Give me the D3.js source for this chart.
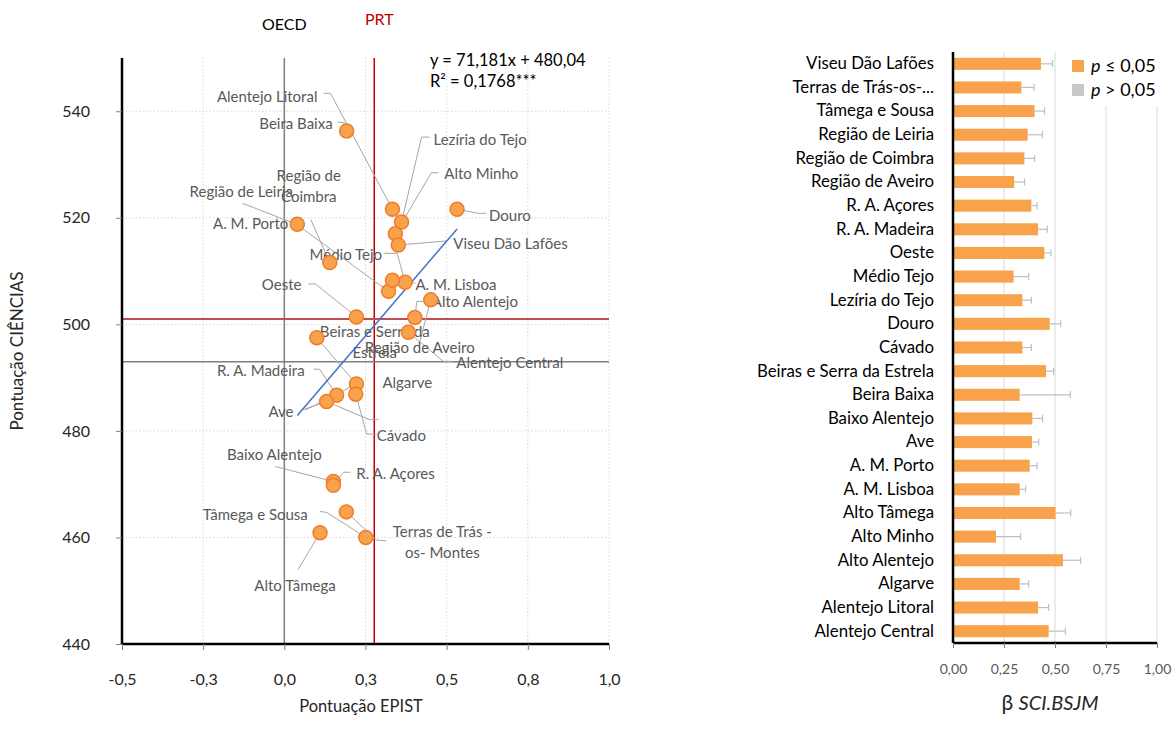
<!DOCTYPE html>
<html>
<head>
<meta charset="utf-8">
<script src="https://cdn.jsdelivr.net/npm/d3@7"></script>
<style>
  body { margin: 0; background: #fff; }
  text { font-family: Lato, "Open Sans", sans-serif; }
</style>
</head>
<body>
<svg id="chart"></svg>
<script>
// ---- dados: dispersão EPIST x CIÊNCIAS ----
const scatterRegions = [
  "Beira Baixa", "Alentejo Litoral", "Lezíria do Tejo", "Alto Minho", "Viseu Dão Lafões",
  "Douro", "A. M. Porto", "Região de Coimbra", "Região de Leiria", "Médio Tejo",
  "A. M. Lisboa", "Região de Aveiro", "Alto Alentejo", "Oeste", "Alentejo Central",
  "Beiras e Serra da Estrela", "Algarve", "Cávado", "R. A. Madeira", "Ave",
  "Baixo Alentejo", "R. A. Açores", "Terras de Trás-os-Montes", "Tâmega e Sousa", "Alto Tâmega"
];
const epist = [
  0.192, 0.333, 0.361, 0.342, 0.351,
  0.532, 0.040, 0.140, 0.321, 0.372,
  0.333, 0.451, 0.402, 0.222, 0.382,
  0.100, 0.222, 0.220, 0.161, 0.130,
  0.151, 0.151, 0.191, 0.251, 0.110
];
const ciencias = [
  536.3, 521.6, 519.2, 517.0, 514.9,
  521.6, 518.8, 511.6, 506.2, 507.9,
  508.3, 504.6, 501.3, 501.4, 498.5,
  497.5, 488.8, 486.9, 486.7, 485.5,
  470.5, 469.8, 464.8, 460.0, 460.9
];
const oecdEpist = 0, prtEpist = 0.277;
const oecdCiencias = 493, prtCiencias = 501;
const trendSlope = 71.181, trendIntercept = 480.04;
const xTicks = [-0.5, -0.25, 0, 0.25, 0.5, 0.75, 1];
const xTickLabels = ["-0,5", "-0,3", "0,0", "0,3", "0,5", "0,8", "1,0"];
const yTicks = [440, 460, 480, 500, 520, 540];

// ---- dados: barras β SCI.BSJM ----
const barRegions = [
  "Viseu Dão Lafões", "Terras de Trás-os-...", "Tâmega e Sousa", "Região de Leiria",
  "Região de Coimbra", "Região de Aveiro", "R. A. Açores", "R. A. Madeira", "Oeste",
  "Médio Tejo", "Lezíria do Tejo", "Douro", "Cávado", "Beiras e Serra da Estrela",
  "Beira Baixa", "Baixo Alentejo", "Ave", "A. M. Porto", "A. M. Lisboa", "Alto Tâmega",
  "Alto Minho", "Alto Alentejo", "Algarve", "Alentejo Litoral", "Alentejo Central"
];
const beta = [
  0.431, 0.335, 0.400, 0.366, 0.350, 0.300, 0.384, 0.417, 0.448, 0.297, 0.340, 0.474, 0.340,
  0.456, 0.327, 0.389, 0.387, 0.376, 0.327, 0.503, 0.211, 0.539, 0.327, 0.417, 0.469
];
const betaErr = [
  0.057, 0.062, 0.049, 0.072, 0.050, 0.051, 0.028, 0.045, 0.032, 0.074, 0.044, 0.054, 0.044,
  0.037, 0.248, 0.050, 0.033, 0.036, 0.029, 0.074, 0.121, 0.087, 0.044, 0.052, 0.082
];
const significant = barRegions.map(() => true);
const betaTicks = [0, 0.25, 0.5, 0.75, 1];
const betaTickLabels = ["0,00", "0,25", "0,50", "0,75", "1,00"];

const width = 1173, height = 743;
const svg = d3.select("#chart").attr("width", width).attr("height", height);

const orange = "#F8A34B", orangeStroke = "#EE7D2C", labelGray = "#595959";

// ================= dispersão =================
const x = d3.scaleLinear().domain([-0.5, 1]).range([122, 609]);
const y = d3.scaleLinear().domain([440, 550]).range([644, 58]);

// grelha pontilhada
svg.append("g").selectAll("line").data(xTicks.filter(d => d > -0.5)).join("line")
  .attr("x1", d => x(d)).attr("x2", d => x(d))
  .attr("y1", y(550)).attr("y2", y(440))
  .attr("stroke", "#d9d9d9").attr("stroke-dasharray", "1.5,2");
svg.append("g").selectAll("line").data(yTicks.filter(d => d > 440)).join("line")
  .attr("x1", x(-0.5)).attr("x2", x(1))
  .attr("y1", d => y(d)).attr("y2", d => y(d))
  .attr("stroke", "#d9d9d9").attr("stroke-dasharray", "1.5,2");

// linhas de referência OECD / PRT
svg.append("line").attr("x1", x(oecdEpist)).attr("x2", x(oecdEpist))
  .attr("y1", y(550)).attr("y2", y(440)).attr("stroke", "#7f7f7f").attr("stroke-width", 1.5);
svg.append("line").attr("x1", x(prtEpist)).attr("x2", x(prtEpist))
  .attr("y1", y(550)).attr("y2", y(440)).attr("stroke", "#C00000").attr("stroke-width", 1.5);
svg.append("line").attr("x1", x(-0.5)).attr("x2", x(1))
  .attr("y1", y(oecdCiencias)).attr("y2", y(oecdCiencias)).attr("stroke", "#7f7f7f").attr("stroke-width", 1.5);
svg.append("line").attr("x1", x(-0.5)).attr("x2", x(1))
  .attr("y1", y(prtCiencias)).attr("y2", y(prtCiencias)).attr("stroke", "#C0504D").attr("stroke-width", 2);

svg.append("text").attr("x", x(oecdEpist)).attr("y", 30).attr("text-anchor", "middle")
  .attr("font-size", 16).attr("fill", "#000").text("OECD");
svg.append("text").attr("x", x(prtEpist) + 5).attr("y", 25).attr("text-anchor", "middle")
  .attr("font-size", 16).attr("fill", "#C00000").text("PRT");

// eixos
const xAxis = svg.append("g").attr("transform", `translate(0,${y(440)})`)
  .call(d3.axisBottom(x).tickValues(xTicks).tickFormat((d, i) => xTickLabels[i]).tickSize(6).tickPadding(24));
const yAxis = svg.append("g").attr("transform", `translate(${x(-0.5)},0)`)
  .call(d3.axisLeft(y).tickValues(yTicks).tickSize(6).tickPadding(26));
[xAxis, yAxis].forEach(g => {
  g.select(".domain").attr("stroke", "#000").attr("stroke-width", 2.5);
  g.selectAll(".tick line").attr("stroke", "#7f7f7f");
  g.selectAll(".tick text").attr("font-size", 16).attr("fill", "#262626")
    .style("font-family", "Lato, sans-serif");
});
yAxis.select(".domain").attr("d", `M-0,${y(550)}V${y(440)}`);
xAxis.select(".domain").attr("d", `M${x(-0.5)},0H${x(1)}`);

svg.append("text").attr("transform", `translate(23,${(y(440) + y(550)) / 2}) rotate(-90)`)
  .attr("text-anchor", "middle").attr("font-size", 17).attr("fill", "#262626").text("Pontuação CIÊNCIAS");
svg.append("text").attr("x", 361).attr("y", 712).attr("text-anchor", "middle")
  .attr("font-size", 16.5).attr("fill", "#262626").text("Pontuação EPIST");

// rótulos (deslocamento em px a partir do ponto) e linhas de chamada
const labelLayout = {
  "Beira Baixa": { dx: -14, dy: -7, anchor: "end", leader: [[-9, -9], [-2, -8], [0, 0]] },
  "Alentejo Litoral": { dx: -75, dy: -113, anchor: "end", leader: [[-69, -116], [-62, -116], [0, 0]] },
  "Lezíria do Tejo": { dx: 32, dy: -82, anchor: "start", leader: [[28, -85], [20, -85], [0, 0]] },
  "Alto Minho": { dx: 49, dy: -60, anchor: "start", leader: [[43, -61], [36, -61], [0, 0]] },
  "Viseu Dão Lafões": { dx: 55, dy: -1, anchor: "start", leader: [[48, -4], [0, 0]] },
  "Douro": { dx: 32, dy: 6, anchor: "start", leader: [[29, 4], [21, 4], [0, 0]] },
  "A. M. Porto": { dx: -9, dy: 0, anchor: "end", leader: null },
  "Região de Coimbra": { dx: -21, dy: -87, anchor: "middle", lines: ["Região de", "Coimbra"], leader: [[-19, -43], [0, 0]] },
  "Região de Leiria": { dx: -199, dy: -100, anchor: "start", leader: [[-146, -88], [-92, -67], [0, 0]] },
  "Médio Tejo": { dx: -23, dy: -28, anchor: "end", leader: [[-21, -29], [-8, -29], [0, 0]] },
  "A. M. Lisboa": { dx: 23, dy: 5, anchor: "start", leader: [[23, 3], [0, 0]] },
  "Região de Aveiro": { dx: -66, dy: 48, anchor: "start", leader: [[-11, 42], [0, 0]] },
  "Alto Alentejo": { dx: 17, dy: -16, anchor: "start", leader: [[12, -16], [2, -16], [0, 0]] },
  "Oeste": { dx: -55, dy: -32, anchor: "end", leader: [[-48, -33], [-41, -33], [0, 0]] },
  "Alentejo Central": { dx: 48, dy: 30, anchor: "start", leader: [[43, 29], [35, 29], [0, 0]] },
  "Beiras e Serra da Estrela": { dx: 58, dy: -6, anchor: "middle", lines: ["Beiras e Serra da", "Estrela"], leader: [[0, 0], [40, 47]] },
  "Algarve": { dx: 26, dy: -1, anchor: "start", leader: [[-51, 26], [0, 0]] },
  "Cávado": { dx: 21, dy: 42, anchor: "start", leader: [[21, 40], [11, 40], [0, 0]] },
  "R. A. Madeira": { dx: -32, dy: -24, anchor: "end", leader: [[-23, -26], [-17, -26], [0, 0]] },
  "Ave": { dx: -33, dy: 10, anchor: "end", leader: [[-23, 8], [0, 0], [43, 18], [52, 18]] },
  "Baixo Alentejo": { dx: -59, dy: -27, anchor: "middle", leader: [[-58, -15], [0, 0]] },
  "R. A. Açores": { dx: 23, dy: -11, anchor: "start", leader: [[17, -13], [10, -13], [0, 0]] },
  "Terras de Trás-os-Montes": { dx: 96, dy: 20, anchor: "middle", lines: ["Terras de Trás -", "os- Montes"], leader: [[40, 29], [30, 28], [0, 0]] },
  "Tâmega e Sousa": { dx: -58, dy: -23, anchor: "end", leader: [[-46, -26], [-39, -25], [0, 0]] },
  "Alto Tâmega": { dx: -25, dy: 53, anchor: "middle", leader: [[-22, 37], [0, 0]] }
};

const pts = scatterRegions.map((name, i) => ({ name, px: x(epist[i]), py: y(ciencias[i]), lay: labelLayout[name] }));

// linhas de chamada
svg.append("g").selectAll("path").data(pts.filter(p => p.lay.leader)).join("path")
  .attr("d", p => d3.line()(p.lay.leader.map(([a, b]) => [p.px + a, p.py + b])))
  .attr("fill", "none").attr("stroke", "#a6a6a6").attr("stroke-width", 1);

// rótulos
const lab = svg.append("g").selectAll("text").data(pts).join("text")
  .attr("x", p => p.px + p.lay.dx).attr("y", p => p.py + p.lay.dy)
  .attr("dy", "0.35em").attr("text-anchor", p => p.lay.anchor)
  .attr("font-size", 15).attr("fill", labelGray);
lab.each(function (p) {
  const t = d3.select(this);
  if (p.lay.lines) {
    p.lay.lines.forEach((s, k) => t.append("tspan").attr("x", p.px + p.lay.dx).attr("dy", k === 0 ? "0.35em" : 21).text(s));
    t.attr("dy", null);
  } else t.text(p.name);
});

// linha de tendência
const xMin = d3.min(epist), xMax = d3.max(epist);
svg.append("line")
  .attr("x1", x(xMin)).attr("y1", y(trendSlope * xMin + trendIntercept))
  .attr("x2", x(xMax)).attr("y2", y(trendSlope * xMax + trendIntercept))
  .attr("stroke", "#4472C4").attr("stroke-width", 1.5);

// pontos
svg.append("g").selectAll("circle").data(pts).join("circle")
  .attr("cx", p => p.px).attr("cy", p => p.py).attr("r", 7)
  .attr("fill", orange).attr("stroke", orangeStroke).attr("stroke-width", 1.5);

// equação
svg.append("text").attr("x", 430).attr("y", 66).attr("font-size", 16.5).attr("fill", "#000")
  .text(`y = ${String(trendSlope).replace(".", ",")}x + ${String(trendIntercept).replace(".", ",")}`);
svg.append("text").attr("x", 430).attr("y", 87).attr("font-size", 16.5).attr("fill", "#000")
  .text("R² = 0,1768***");

// ================= barras =================
const bx = d3.scaleLinear().domain([0, 1]).range([953, 1157]);
const by = d3.scaleBand().domain(barRegions).range([52, 643]).paddingInner(0.49).paddingOuter(0.245);

svg.append("g").selectAll("line").data(betaTicks.filter(d => d > 0)).join("line")
  .attr("x1", d => bx(d)).attr("x2", d => bx(d))
  .attr("y1", 52).attr("y2", 643)
  .attr("stroke", "#d9d9d9").attr("stroke-width", 1);

svg.append("g").selectAll("rect").data(barRegions).join("rect")
  .attr("x", bx(0)).attr("y", d => by(d))
  .attr("width", (d, i) => bx(beta[i]) - bx(0)).attr("height", by.bandwidth())
  .attr("fill", (d, i) => significant[i] ? orange : "#c8c8c8");

// barras de erro
const err = svg.append("g").attr("stroke", "#bfbfbf").attr("stroke-width", 1.2);
barRegions.forEach((d, i) => {
  const cy = by(d) + by.bandwidth() / 2;
  err.append("line").attr("x1", bx(beta[i])).attr("x2", bx(beta[i] + betaErr[i])).attr("y1", cy).attr("y2", cy);
  err.append("line").attr("x1", bx(beta[i] + betaErr[i])).attr("x2", bx(beta[i] + betaErr[i])).attr("y1", cy - 3.5).attr("y2", cy + 3.5);
});

const bxAxis = svg.append("g").attr("transform", "translate(0,643)")
  .call(d3.axisBottom(bx).tickValues(betaTicks).tickFormat((d, i) => betaTickLabels[i]).tickSize(5).tickPadding(16));
bxAxis.select(".domain").attr("stroke", "#000").attr("stroke-width", 2.5).attr("d", `M${bx(0)},0H${bx(1)}`);
bxAxis.selectAll(".tick line").attr("stroke", "#7f7f7f");
bxAxis.selectAll(".tick text").attr("font-size", 14).attr("fill", labelGray).style("font-family", "Lato, sans-serif");

const byAxis = svg.append("g").attr("transform", `translate(${bx(0)},0)`)
  .call(d3.axisLeft(by).tickSize(0).tickPadding(19));
byAxis.select(".domain").attr("stroke", "#000").attr("stroke-width", 2.5).attr("d", "M0,52V643");
byAxis.selectAll(".tick text").attr("font-size", 16.8).attr("fill", "#000").style("font-family", "Lato, sans-serif");

// título do eixo
const bt = svg.append("text").attr("x", 1050).attr("y", 710).attr("text-anchor", "middle")
  .attr("font-size", 21).attr("fill", "#262626");
bt.append("tspan").text("β ");
bt.append("tspan").attr("font-style", "italic").attr("font-size", 20).text("SCI.BSJM");

// legenda
svg.append("rect").attr("x", 1062).attr("y", 48).attr("width", 111).attr("height", 58).attr("fill", "#fff");
const legend = [{ c: orange, t: " ≤ 0,05" }, { c: "#c8c8c8", t: " > 0,05" }];
legend.forEach((l, i) => {
  const ly = 66 + i * 24;
  svg.append("rect").attr("x", 1072).attr("y", ly - 6).attr("width", 12).attr("height", 12).attr("fill", l.c);
  const t = svg.append("text").attr("x", 1091).attr("y", ly).attr("dy", "0.35em").attr("font-size", 18).attr("fill", "#000");
  t.append("tspan").attr("font-style", "italic").text("p");
  t.append("tspan").text(l.t);
});
</script>
</body>
</html>
